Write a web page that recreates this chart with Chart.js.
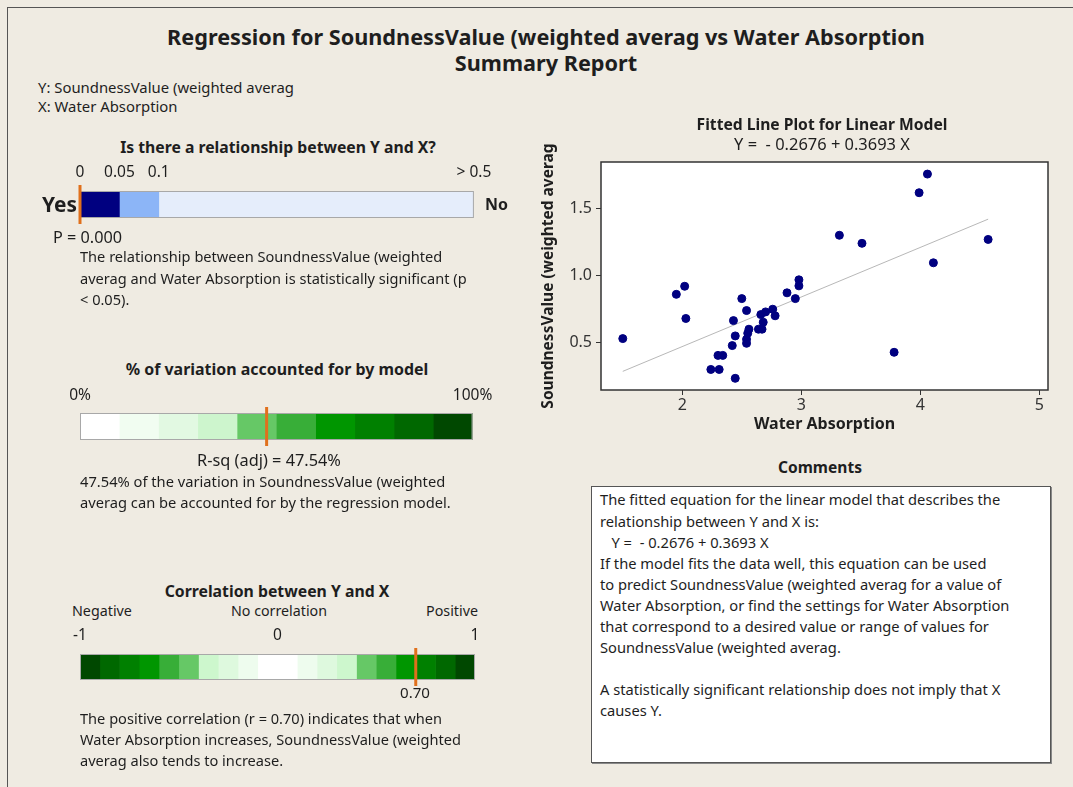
<!DOCTYPE html>
<html>
<head>
<meta charset="utf-8">
<script src="https://cdn.jsdelivr.net/npm/chart.js@4.4.0/dist/chart.umd.min.js"></script>
<style>
body { margin: 0; background: #efebe2; overflow: hidden; font-family: 'Noto Sans', sans-serif; color: #1e1e1e; }
#page { position: relative; width: 1073px; height: 787px; }
#frame { position: absolute; left: 7px; top: 7px; width: 1080px; height: 800px; border-left: 1px solid #555; border-top: 1px solid #555; }
.t { position: absolute; white-space: pre; }
canvas { position: absolute; }
#commentBox { position: absolute; left: 591px; top: 486px; width: 458px; height: 275px; background: #fff; border: 1px solid #555; box-shadow: 1px 1px 0 #888; }
</style>
</head>
<body>
<div id="page">
  <div id="frame"></div>
  <div id="commentBox"></div>
  <canvas id="pGauge" width="440" height="70" style="left:60px;top:160px"></canvas>
  <canvas id="rsqGauge" width="440" height="70" style="left:60px;top:385px"></canvas>
  <canvas id="corrGauge" width="440" height="70" style="left:60px;top:625px"></canvas>
  <canvas id="fitPlot" width="530" height="330" style="left:530px;top:110px"></canvas>
</div>
<script>
// scatter data
const waterAbsorption = [1.50, 1.95, 2.02, 2.03, 2.24, 2.31, 2.30, 2.34, 2.445, 2.42, 2.445, 2.43,
  2.50, 2.54, 2.54, 2.54, 2.55, 2.56, 2.64, 2.67, 2.68, 2.66, 2.70, 2.76, 2.78, 2.88, 2.95,
  2.98, 2.98, 3.32, 3.51, 3.78, 3.99, 4.06, 4.11, 4.57];
const soundness = [0.53, 0.86, 0.92, 0.68, 0.30, 0.30, 0.405, 0.405, 0.234, 0.478, 0.55, 0.664,
  0.828, 0.739, 0.495, 0.525, 0.57, 0.60, 0.60, 0.60, 0.652, 0.709, 0.729, 0.749, 0.70, 0.871, 0.828,
  0.923, 0.968, 1.30, 1.24, 0.428, 1.617, 1.756, 1.095, 1.269];
// fitted line end points (Y = -0.2676 + 0.3693 X)
const fitX = [1.50, 4.57];
const fitY = [0.286, 1.420];
const xTicks = [2, 3, 4, 5];
const yTicks = [0.5, 1.0, 1.5];

// p-value gauge (non-linear scale: 0, 0.05, 0.1, >0.5)
const pEdges = [0, 1, 2, 10];
const pTickLabels = ['0', '0.05', '0.1', '> 0.5'];
const pColors = ['#000080', '#8cb5f7', '#e5edfb'];
const pMarker = 0;

// R-sq gauge
const rsqEdges = [0, 10, 20, 30, 40, 50, 60, 70, 80, 90, 100];
const rsqTicks = [0, 100];
const rsqTickLabels = ['0%', '100%'];
const rsqColors = ['#ffffff', '#f1fdf1', '#e2f9e2', '#cdf5cd', '#66c866', '#38ae38',
  '#009600', '#008000', '#006800', '#004800'];
const rsqValue = 47.54;

// correlation gauge
const corrEdges = [-1, -0.9, -0.8, -0.7, -0.6, -0.5, -0.4, -0.3, -0.2, -0.1, 0,
  0.1, 0.2, 0.3, 0.4, 0.5, 0.6, 0.7, 0.8, 0.9, 1];
const corrTicks = [-1, 0, 1];
const corrTickLabels = ['-1', '0', '1'];
const corrColors = ['#004800', '#006800', '#008000', '#009600', '#38ae38', '#66c866',
  '#cdf7cd', '#def9de', '#eefcee', '#ffffff', '#ffffff', '#eefcee', '#def9de', '#cdf7cd',
  '#66c866', '#38ae38', '#009600', '#008000', '#006800', '#004800'];
const corrValue = 0.70;

const page = document.getElementById('page');
const fontFamily = "'Noto Sans', sans-serif";

function label(lines, x, y, o = {}) {
  const size = o.size || 14, lh = o.lh || 21;
  const d = document.createElement('div');
  d.className = 't';
  d.style.fontSize = size + 'px';
  d.style.lineHeight = lh + 'px';
  if (o.bold) d.style.fontWeight = 'bold';
  if (o.align === 'center') d.style.textAlign = 'center';
  lines.forEach((s, i) => {
    if (i) d.appendChild(document.createElement('br'));
    d.appendChild(document.createTextNode(s));
  });
  page.appendChild(d);
  if (o.w) {
    const w0 = d.getBoundingClientRect().width;
    d.style.fontSize = (size * o.w / w0) + 'px';
  }
  const w = d.getBoundingClientRect().width;
  let left = x;
  if (o.align === 'center') left = x - w / 2;
  if (o.align === 'right') left = x - w;
  d.style.left = left + 'px';
  d.style.top = (y - lh / 2) + 'px';
}

label(['Regression for SoundnessValue (weighted averag vs Water Absorption', 'Summary Report'],
  546, 37, { bold: true, size: 20, lh: 26, w: 758, align: 'center' });
label(['Y: SoundnessValue (weighted averag', 'X: Water Absorption'], 38, 87, { lh: 19, w: 256 });

label(['Is there a relationship between Y and X?'], 278, 147, { bold: true, w: 316, align: 'center' });
label(['Yes'], 42, 204, { bold: true, size: 17, w: 35 });
label(['No'], 485, 204, { bold: true, size: 17, w: 23 });
label(['P = 0.000'], 53, 237, { w: 69 });
label(['The relationship between SoundnessValue (weighted',
  'averag and Water Absorption is statistically significant (p',
  '< 0.05).'], 80, 257, { lh: 21.5, w: 387 });

label(['% of variation accounted for by model'], 277, 369, { bold: true, w: 303, align: 'center' });
label(['R-sq (adj) = 47.54%'], 269, 460, { w: 144, align: 'center' });
label(['47.54% of the variation in SoundnessValue (weighted',
  'averag can be accounted for by the regression model.'], 80, 481, { w: 371 });

label(['Correlation between Y and X'], 277, 591, { bold: true, w: 225, align: 'center' });
label(['Negative'], 72, 610, { w: 60 });
label(['No correlation'], 279, 610, { w: 96, align: 'center' });
label(['Positive'], 478, 610, { w: 52, align: 'right' });
label(['0.70'], 415, 692, { w: 30, align: 'center' });
label(['The positive correlation (r = 0.70) indicates that when',
  'Water Absorption increases, SoundnessValue (weighted',
  'averag also tends to increase.'], 80, 718, { w: 381 });

label(['Fitted Line Plot for Linear Model'], 822, 124, { bold: true, w: 251, align: 'center' });
label(['Y =  - 0.2676 + 0.3693 X'], 822, 143, { w: 176, align: 'center' });
label(['Comments'], 820, 467, { bold: true, w: 84, align: 'center' });
label(['The fitted equation for the linear model that describes the',
  'relationship between Y and X is:',
  '   Y =  - 0.2676 + 0.3693 X',
  'If the model fits the data well, this equation can be used',
  'to predict SoundnessValue (weighted averag for a value of',
  'Water Absorption, or find the settings for Water Absorption',
  'that correspond to a desired value or range of values for',
  'SoundnessValue (weighted averag.',
  '',
  'A statistically significant relationship does not imply that X',
  'causes Y.'], 600, 500, { lh: 21.1, w: 410 });

// gauge marker + outline
const gaugeMarker = {
  id: 'gaugeMarker',
  afterDatasetsDraw(chart, args, opts) {
    const a = chart.chartArea, ctx = chart.ctx;
    ctx.save();
    ctx.strokeStyle = '#a8a8a8';
    ctx.lineWidth = 1;
    ctx.strokeRect(a.left + 0.5, a.top + 0.5, a.width - 1, a.height - 1);
    const x = chart.scales.x.getPixelForValue(opts.value);
    ctx.strokeStyle = '#e0701c';
    ctx.lineWidth = 3;
    ctx.beginPath();
    ctx.moveTo(x, a.top - 6);
    ctx.lineTo(x, a.bottom + 6);
    ctx.stroke();
    ctx.restore();
  }
};

function gauge(id, edges, colors, ticks, tickLabels, marker, axisH, tickPad, padRight, padBottom) {
  new Chart(document.getElementById(id), {
    type: 'bar',
    data: {
      labels: [''],
      datasets: colors.map((c, i) => ({
        data: [[edges[i], edges[i + 1]]],
        backgroundColor: c,
        borderWidth: 0,
        grouped: false,
        barPercentage: 1,
        categoryPercentage: 1
      }))
    },
    options: {
      indexAxis: 'y',
      responsive: false,
      animation: false,
      layout: { padding: { left: 20, right: padRight, top: 0, bottom: padBottom } },
      plugins: { legend: { display: false }, tooltip: { enabled: false }, gaugeMarker: { value: marker } },
      scales: {
        x: {
          position: 'top',
          min: edges[0],
          max: edges[edges.length - 1],
          afterBuildTicks: s => { s.ticks = ticks.map(v => ({ value: v })); },
          afterFit: s => { s.height = axisH; },
          ticks: {
            autoSkip: false, maxRotation: 0, padding: tickPad, color: '#1e1e1e',
            font: { family: fontFamily, size: 15.5 },
            callback: (v, i) => tickLabels[i]
          },
          grid: { display: false, drawTicks: false },
          border: { display: false }
        },
        y: { display: false }
      }
    },
    plugins: [gaugeMarker]
  });
}

gauge('pGauge', pEdges, pColors, pEdges, pTickLabels, pMarker, 31, 8.7, 26, 12);
gauge('rsqGauge', rsqEdges, rsqColors, rsqTicks, rsqTickLabels, rsqValue, 28, 7.7, 26, 15);
gauge('corrGauge', corrEdges, corrColors, corrTicks, corrTickLabels, corrValue, 29, 8.7, 25, 15);

// white plot area with a dark frame
const plotFrame = {
  id: 'plotFrame',
  beforeDatasetsDraw(chart) {
    const a = chart.chartArea, ctx = chart.ctx;
    ctx.save();
    ctx.fillStyle = '#ffffff';
    ctx.fillRect(a.left, a.top, a.width, a.height);
    ctx.restore();
  },
  afterDraw(chart) {
    const a = chart.chartArea, ctx = chart.ctx;
    ctx.save();
    ctx.strokeStyle = '#333';
    ctx.lineWidth = 1.5;
    ctx.strokeRect(a.left, a.top, a.width, a.height);
    ctx.restore();
  }
};

new Chart(document.getElementById('fitPlot'), {
  type: 'scatter',
  data: {
    datasets: [
      {
        data: waterAbsorption.map((x, i) => ({ x: x, y: soundness[i] })),
        backgroundColor: '#000080',
        borderColor: '#000080',
        pointRadius: 4,
        order: 1
      },
      {
        data: fitX.map((x, i) => ({ x: x, y: fitY[i] })),
        showLine: true,
        borderColor: '#b8b8b8',
        borderWidth: 1,
        pointRadius: 0,
        order: 2
      }
    ]
  },
  options: {
    responsive: false,
    animation: false,
    layout: { padding: { top: 52, right: 12, left: 0, bottom: 0 } },
    plugins: { legend: { display: false }, tooltip: { enabled: false } },
    scales: {
      x: {
        type: 'linear',
        min: 1.317,
        max: 5.073,
        afterBuildTicks: s => { s.ticks = xTicks.map(v => ({ value: v })); },
        afterFit: s => { s.height = 50; },
        ticks: { color: '#333', padding: 1, font: { family: fontFamily, size: 16 }, callback: v => String(v) },
        grid: { drawOnChartArea: false, color: '#333', tickLength: 5 },
        border: { display: false },
        title: {
          display: true, text: 'Water Absorption', color: '#1e1e1e',
          font: { family: fontFamily, size: 16, weight: 'bold' },
          padding: { top: 0, bottom: 5.5 }
        }
      },
      y: {
        min: 0.147,
        max: 1.846,
        afterBuildTicks: s => { s.ticks = yTicks.map(v => ({ value: v })); },
        afterFit: s => { s.width = 71; },
        ticks: { color: '#333', padding: 4, font: { family: fontFamily, size: 16 }, callback: v => v.toFixed(1) },
        grid: { drawOnChartArea: false, color: '#333', tickLength: 5 },
        border: { display: false },
        title: {
          display: true, text: 'SoundnessValue (weighted averag', color: '#1e1e1e',
          font: { family: fontFamily, size: 15.5, weight: 'bold' },
          padding: { top: 9.5, bottom: 0 }
        }
      }
    }
  },
  plugins: [plotFrame]
});
</script>
</body>
</html>
